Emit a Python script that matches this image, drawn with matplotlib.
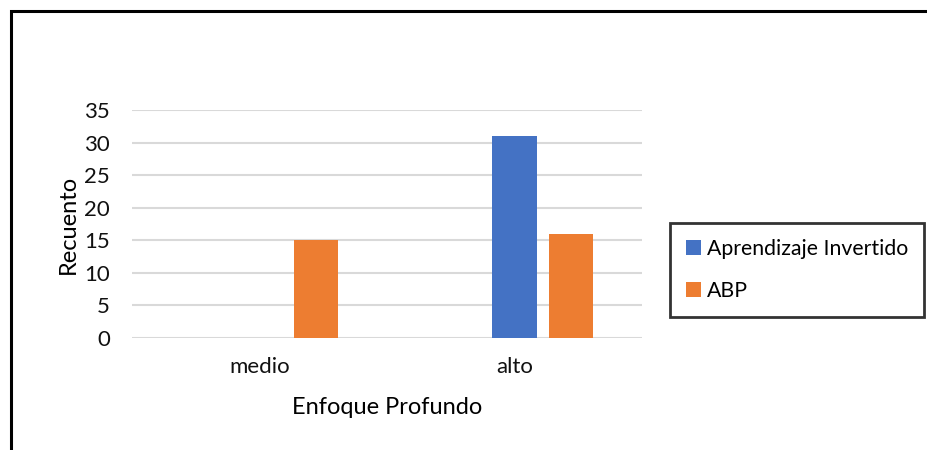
import matplotlib
matplotlib.use("Agg")
import matplotlib.pyplot as plt
from matplotlib.patches import Rectangle
import numpy as np

categories = ["medio", "alto"]
series_names = ["Aprendizaje Invertido", "ABP"]
invertido = [0, 31]
abp = [15, 16]
y_ticks = [0, 5, 10, 15, 20, 25, 30, 35]

BLUE = "#4472c4"
ORANGE = "#ed7d31"

plt.rcParams["font.family"] = ["Lato", "DejaVu Sans"]

W, H = 928, 450
fig = plt.figure(figsize=(W / 100, H / 100), dpi=100)

# outer frame around the chart area (open on the right and bottom)
fig.patches.append(Rectangle((11.5 / W, -0.05), 1.1, (H - 11) / H + 0.05,
                             transform=fig.transFigure, fill=False,
                             edgecolor="black", linewidth=2.2))

ax = fig.add_axes([132 / W, (H - 338) / H, (642 - 132) / W, (338 - 110) / H])

x = np.arange(len(categories))
width = 0.173
offset = 0.2216
ax.bar(x, invertido, width, color=BLUE, label=series_names[0], zorder=3)
ax.bar(x + offset, abp, width, color=ORANGE, label=series_names[1], zorder=3)

ax.set_xlim(-0.5, 1.5)
ax.set_ylim(0, 35)
ax.set_yticks(y_ticks)
ax.set_xticks(x)
ax.set_xticklabels(categories)
ax.tick_params(axis="both", length=0, labelsize=16, colors="#111111")
ax.tick_params(axis="y", pad=16)
ax.tick_params(axis="x", pad=14)
ax.grid(axis="y", color="#d9d9d9", linewidth=1.5, zorder=0)
for s in ax.spines.values():
    s.set_visible(False)

ax.set_ylabel("Recuento", fontsize=17, labelpad=4)
ax.set_xlabel("Enfoque Profundo", fontsize=17, labelpad=14)

leg = fig.legend(loc="upper left", bbox_to_anchor=(670 / W, (H - 223) / H),
                 fontsize=15.3, frameon=True, fancybox=False, handlelength=0.7,
                 handleheight=0.7, handletextpad=0.3, labelspacing=1.05,
                 borderpad=0.75, borderaxespad=0)
leg.get_frame().set_edgecolor("black")
leg.get_frame().set_linewidth(2)

fig.savefig("out.png", dpi=100)
